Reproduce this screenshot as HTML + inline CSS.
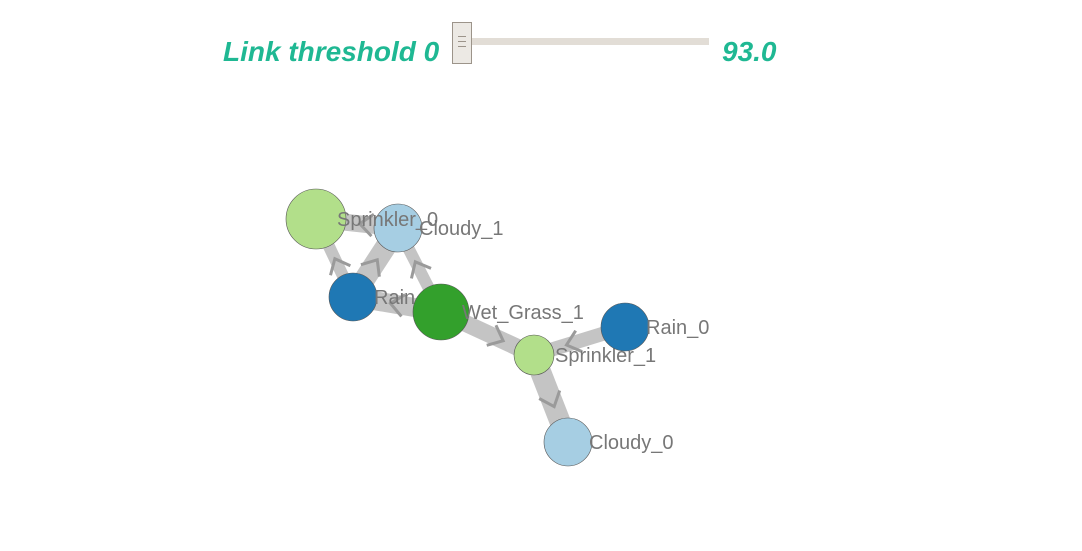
<!DOCTYPE html>
<html><head><meta charset="utf-8">
<style>
html,body{margin:0;padding:0;background:#fff;width:1082px;height:551px;overflow:hidden;font-family:"Liberation Sans",sans-serif}
.lbl{position:absolute;font-style:italic;font-weight:bold;font-size:28px;color:#1fb893}
</style></head>
<body>
<div class="lbl" style="left:223px;top:36px">Link threshold 0</div>
<div style="position:absolute;left:463px;top:38px;width:246px;height:7px;background:#e2ddd6"></div>
<div style="position:absolute;left:452px;top:22px;width:18px;height:40px;background:#ece9e4;border:1px solid #9c948a">
  <div style="position:absolute;left:5px;top:13px;width:8px;height:1px;background:#9c948a"></div>
  <div style="position:absolute;left:5px;top:18px;width:8px;height:1px;background:#9c948a"></div>
  <div style="position:absolute;left:5px;top:23px;width:8px;height:1px;background:#9c948a"></div>
</div>
<div class="lbl" style="left:722px;top:36px">93.0</div>
<svg id="g" width="1082" height="551" style="position:absolute;left:0;top:0;pointer-events:none"></svg>
<script>
const nodeNames=["Cloudy_1","Sprinkler_0","Rain_1","Wet_Grass_1","Sprinkler_1","Rain_0","Cloudy_0"];
const nodeX=[398,316,353,441,534,625,568];
const nodeY=[228,219,297,312,355,327,442];
const nodeR=[24,30,24,28,20,24,24];
const nodeColor=["#a6cee3","#b2df8a","#1f78b4","#33a02c","#b2df8a","#1f78b4","#a6cee3"];
const edgeSrc=[0,2,2,3,3,3,5,4];
const edgeTgt=[1,1,0,0,2,4,4,6];
const edgeW=[17,12,21,12,19,17,14,21];
const NS="http://www.w3.org/2000/svg";
const svg=document.getElementById('g');
function mk(t,a){const e=document.createElementNS(NS,t);for(const k in a)e.setAttribute(k,a[k]);return e;}
for(let i=0;i<edgeSrc.length;i++){
  const s=edgeSrc[i],t=edgeTgt[i];
  const x1=nodeX[s],y1=nodeY[s],x2=nodeX[t],y2=nodeY[t];
  const l=mk('line',{x1:x1,y1:y1,x2:x2,y2:y2,stroke:'#c4c4c4','stroke-width':edgeW[i]});
  
  
  svg.appendChild(l);
}
for(let i=0;i<edgeSrc.length;i++){
  const s=edgeSrc[i],t=edgeTgt[i];
  const x1=nodeX[s],y1=nodeY[s],x2=nodeX[t],y2=nodeY[t];
  const dx=x2-x1,dy=y2-y1,d=Math.hypot(dx,dy),ux=dx/d,uy=dy/d;
  const off=Math.min(nodeR[t]+14,d/2+8);
  const tx=x2-ux*off,ty=y2-uy*off;
  const bx=tx-ux*13,by=ty-uy*13,px=-uy*11,py=ux*11;
  const a=mk('polyline',{points:`${bx+px},${by+py} ${tx},${ty} ${bx-px},${by-py}`,fill:'none',stroke:'#9a9a9a','stroke-width':3});
  
  
  svg.appendChild(a);
}
for(let i=0;i<nodeNames.length;i++){
  const c=mk('circle',{cx:nodeX[i],cy:nodeY[i],r:nodeR[i],fill:nodeColor[i],stroke:'#555','stroke-width':0.6});
  
  
  svg.appendChild(c);
  const t=mk('text',{x:nodeX[i]+21,y:nodeY[i]+7,fill:'#777','font-size':20,'font-family':'Liberation Sans, sans-serif'});
  t.textContent=nodeNames[i];
  
  
  svg.appendChild(t);
}
</script>
</body></html>
